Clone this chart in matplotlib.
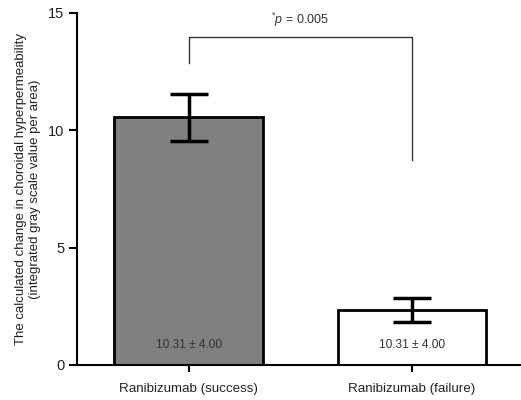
import matplotlib

matplotlib.use("Agg")
import matplotlib.pyplot as plt

plt.rcParams["font.family"] = ["Liberation Sans", "DejaVu Sans"]
plt.rcParams["mathtext.fontset"] = "custom"
plt.rcParams["mathtext.rm"] = "Liberation Sans"
plt.rcParams["mathtext.it"] = "Liberation Sans:italic"

groups = ["Ranibizumab (success)", "Ranibizumab (failure)"]
means = [10.55, 2.35]
errors = [1.0, 0.5]
bar_labels = ["10.31 \u00b1 4.00", "10.31 \u00b1 4.00"]
colors = ["#808080", "#ffffff"]
p_text = "$^{*}\\mathit{p}$ = 0.005"

fig = plt.figure(figsize=(5.21, 4.0), dpi=100)
ax = fig.add_axes([0.148, 0.0875, 0.852, 0.88])

x = list(range(len(groups)))
ax.bar(x, means, width=0.665, color=colors, edgecolor="black", linewidth=2,
       zorder=2)
ax.errorbar(x, means, yerr=errors, fmt="none", ecolor="black", elinewidth=2.5,
            capsize=14, capthick=2.5, zorder=3)

for xi, lab in zip(x, bar_labels):
    ax.text(xi, 0.85, lab, ha="center", va="center", fontsize=8.6,
            color="#333333")

# significance bracket
ax.plot([0, 0, 1, 1], [12.87, 13.97, 13.97, 8.73], color="#333333", lw=1)
ax.text(0.5, 14.3, p_text, ha="center", va="bottom", fontsize=9,
        color="#333333")

ax.set_xlim(-0.5, 1.49)
ax.set_ylim(0, 15)
ax.set_yticks([0, 5, 10, 15])
ax.set_xticks(x)
ax.set_xticklabels(groups, fontsize=9.6, color="#222222")
ax.tick_params(axis="y", labelsize=10.5, length=6, width=1.5, direction="out",
               pad=3, labelcolor="#222222")
ax.tick_params(axis="x", length=5, width=1.5, pad=8)
for s in ("top", "right"):
    ax.spines[s].set_visible(False)
for s in ("left", "bottom"):
    ax.spines[s].set_linewidth(1.5)
ax.set_ylabel("The calculated change in choroidal hyperpermeability\n"
              "(integrated gray scale value per area)", fontsize=9.5,
              labelpad=5, color="#222222")

fig.savefig("out.png", dpi=100)
